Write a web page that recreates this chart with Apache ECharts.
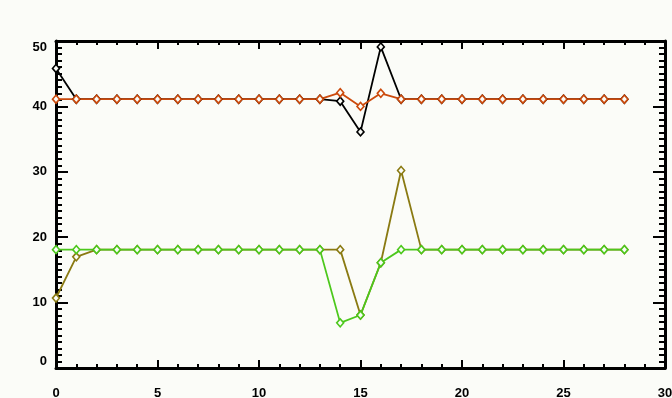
<!DOCTYPE html>
<html>
<head>
<meta charset="utf-8">
<script src="https://cdn.jsdelivr.net/npm/echarts@6/dist/echarts.min.js"></script>
<style>
    html, body {margin: 0; padding: 0; background: #fbfcf8;}
    #main {width: 672px; height: 398px;}
</style>
</head>
<body>
<div id="main"></div>
<script>
    // x positions 0..28
    var xs = [0, 1, 2, 3, 4, 5, 6, 7, 8, 9, 10, 11, 12, 13, 14, 15, 16, 17, 18, 19, 20, 21, 22, 23, 24, 25, 26, 27, 28];
    var blackVals = [45.8, 41.1, 41.1, 41.1, 41.1, 41.1, 41.1, 41.1, 41.1, 41.1, 41.1, 41.1, 41.1, 41.1, 40.8, 36.1, 49.1, 41.1, 41.1, 41.1, 41.1, 41.1, 41.1, 41.1, 41.1, 41.1, 41.1, 41.1, 41.1];
    var redVals = [41.1, 41.1, 41.1, 41.1, 41.1, 41.1, 41.1, 41.1, 41.1, 41.1, 41.1, 41.1, 41.1, 41.1, 42.1, 40.0, 42.0, 41.1, 41.1, 41.1, 41.1, 41.1, 41.1, 41.1, 41.1, 41.1, 41.1, 41.1, 41.1];
    var oliveVals = [10.7, 17.0, 18.1, 18.1, 18.1, 18.1, 18.1, 18.1, 18.1, 18.1, 18.1, 18.1, 18.1, 18.1, 18.1, 8.1, 16.1, 30.2, 18.1, 18.1, 18.1, 18.1, 18.1, 18.1, 18.1, 18.1, 18.1, 18.1, 18.1];
    var greenVals = [18.1, 18.1, 18.1, 18.1, 18.1, 18.1, 18.1, 18.1, 18.1, 18.1, 18.1, 18.1, 18.1, 18.1, 6.9, 8.1, 16.1, 18.1, 18.1, 18.1, 18.1, 18.1, 18.1, 18.1, 18.1, 18.1, 18.1, 18.1, 18.1];

    var bg = '#fbfcf8';
    var colors = ['#000000', '#cc4a0c', '#8a7a12', '#4cc81c'];

    function pairs(vals) {
        return xs.map(function (x, i) { return [x, vals[i]]; });
    }

    function makeSeries(vals, c) {
        return {
            type: 'line',
            data: pairs(vals),
            symbol: 'diamond',
            symbolSize: [7, 8],
            lineStyle: {color: c, width: 1.8},
            itemStyle: {color: bg, borderColor: c, borderWidth: 1.6},
            animation: false
        };
    }

    var labelStyle = {color: '#000', fontFamily: 'Liberation Sans', fontWeight: 'bold', fontSize: 13};

    function xAxisOpt(pos, showLabel) {
        return {
            type: 'value', position: pos, min: 0, max: 30, interval: 5,
            axisLine: {show: true, onZero: false, lineStyle: {color: '#000', width: 3}},
            axisTick: {show: true, inside: true, length: 8, lineStyle: {color: '#000', width: 2}},
            minorTick: {show: true, splitNumber: 5, length: 4, lineStyle: {color: '#000', width: 2}},
            axisLabel: Object.assign({show: showLabel, margin: 19}, labelStyle),
            splitLine: {show: false}
        };
    }

    function yAxisOpt(pos, showLabel) {
        return {
            type: 'value', position: pos, min: 0, max: 50, interval: 10,
            axisLine: {show: true, onZero: false, lineStyle: {color: '#000', width: 3}},
            axisTick: {show: true, inside: true, length: 12, lineStyle: {color: '#000', width: 2}},
            minorTick: {show: true, splitNumber: 10, length: 6, lineStyle: {color: '#000', width: 2}},
            axisLabel: Object.assign({
                show: showLabel, margin: 9,
                verticalAlignMinLabel: 'bottom',
                verticalAlignMaxLabel: 'top'
            }, labelStyle),
            splitLine: {show: false}
        };
    }

    var myChart = echarts.init(document.getElementById('main'));
    myChart.setOption({
        backgroundColor: bg,
        grid: {left: 56, right: 7, top: 41, bottom: 30, outerBoundsMode: 'none', containLabel: false},
        xAxis: [xAxisOpt('bottom', true), xAxisOpt('top', false)],
        yAxis: [yAxisOpt('left', true), yAxisOpt('right', false)],
        series: [
            makeSeries(blackVals, colors[0]),
            makeSeries(redVals, colors[1]),
            makeSeries(oliveVals, colors[2]),
            makeSeries(greenVals, colors[3])
        ]
    });
</script>
</body>
</html>
